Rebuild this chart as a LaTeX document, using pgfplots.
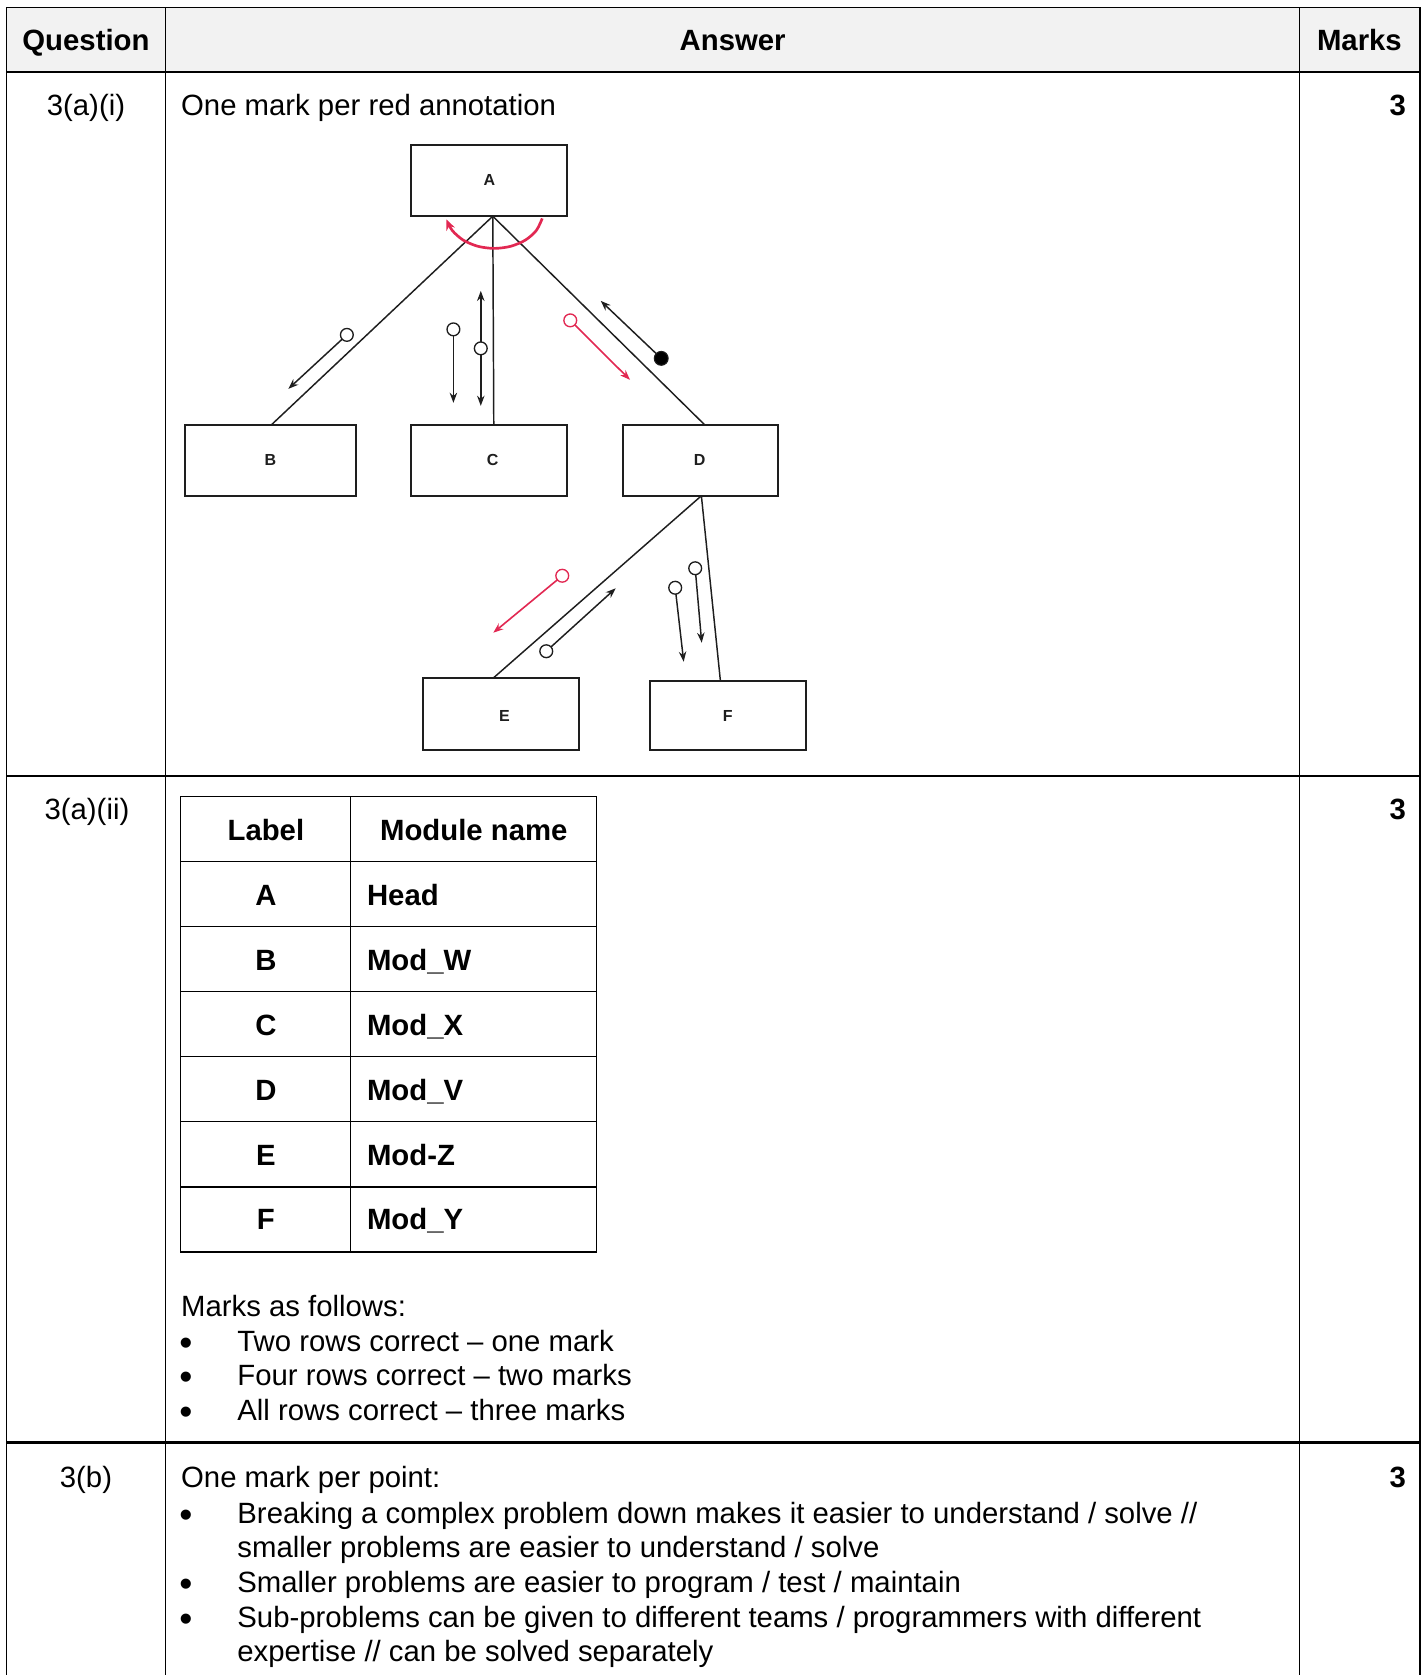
\documentclass[border=0pt]{standalone}
\usepackage{fontspec}
\setmainfont{Liberation Sans}
\usepackage{pgfplots}
\pgfplotsset{compat=1.18}
\usetikzlibrary{arrows.meta}
\definecolor{headgrey}{RGB}{242,242,242}
\definecolor{annot}{RGB}{226,40,82}
\definecolor{ink}{RGB}{30,30,30}

\newcommand{\bul}{{\fontsize{14}{14}\selectfont\textbullet}}

\begin{document}
\begin{tikzpicture}[every node/.style={font=\fontsize{11}{13}\selectfont, inner sep=0pt}]
\begin{axis}[
  scale only axis, width=534pt, height=628.5pt,
  xmin=0, xmax=1424, ymin=0, ymax=1676, y dir=reverse,
  hide axis, clip=false,
  rule/.style={black, line width=0.55pt},
  thickrule/.style={black, line width=0.95pt},
  box/.style={ink, line width=0.7pt},
  link/.style={ink, line width=0.55pt},
  flow/.style={ink, line width=0.55pt, -{Stealth[length=3.8pt,width=2.8pt]}},
  redflow/.style={annot, line width=0.6pt, -{Stealth[length=3.8pt,width=2.8pt]}},
  cpl/.style={only marks, mark=*, mark size=2.4pt, mark options={draw=ink, fill=white, line width=0.5pt}},
  redcpl/.style={only marks, mark=*, mark size=2.4pt, mark options={draw=annot, fill=white, line width=0.5pt}},
]
% page and header background
\addplot[draw=none, fill=white] coordinates {(0,0) (1424,0) (1424,1676) (0,1676)} -- cycle;
\addplot[draw=none, fill=headgrey] coordinates {(6.5,7.3) (1420.5,7.3) (1420.5,72) (6.5,72)} -- cycle;

% outer table
\addplot[rule] coordinates {(6.5,7.3) (1420.5,7.3)};
\addplot[rule] coordinates {(6.5,7.3) (6.5,1676)};
\addplot[rule] coordinates {(1420.5,7.3) (1420.5,1676)};
\addplot[rule] coordinates {(165.7,7.3) (165.7,1676)};
\addplot[rule] coordinates {(1300,7.3) (1300,1676)};
\addplot[thickrule] coordinates {(6.5,72) (1420.5,72)};
\addplot[thickrule] coordinates {(6.5,776.5) (1420.5,776.5)};
\addplot[thickrule] coordinates {(6.5,1443) (1420.5,1443)};

% inner label table
\addplot[rule] coordinates {(180.7,796.7) (597,796.7) (597,1252.3) (180.7,1252.3)} -- cycle;
\addplot[rule] coordinates {(350.7,796.7) (350.7,1252.3)};
\addplot[rule] coordinates {(180.7,861.7) (597,861.7)};
\addplot[rule] coordinates {(180.7,926.7) (597,926.7)};
\addplot[rule] coordinates {(180.7,991.7) (597,991.7)};
\addplot[rule] coordinates {(180.7,1057) (597,1057)};
\addplot[rule] coordinates {(180.7,1122.2) (597,1122.2)};
\addplot[rule] coordinates {(180.7,1187.3) (597,1187.3)};

% structure chart boxes
\addplot[box] coordinates {(411.6,145.4) (567.6,145.4) (567.6,216.3) (411.6,216.3)} -- cycle;
\addplot[box] coordinates {(185,425.5) (356.5,425.5) (356.5,496) (185,496)} -- cycle;
\addplot[box] coordinates {(411.6,425.5) (567.6,425.5) (567.6,496) (411.6,496)} -- cycle;
\addplot[box] coordinates {(623,425.5) (778.5,425.5) (778.5,496) (623,496)} -- cycle;
\addplot[box] coordinates {(423,678.5) (579,678.5) (579,750) (423,750)} -- cycle;
\addplot[box] coordinates {(650,681) (806,681) (806,750.5) (650,750.5)} -- cycle;

% connectors
\addplot[link] coordinates {(493,216.3) (271,425.5)};
\addplot[link] coordinates {(493,216.3) (494,425.5)};
\addplot[link] coordinates {(493,216.3) (705.5,425.5)};
\addplot[link] coordinates {(701.7,496) (493.3,678.5)};
\addplot[link] coordinates {(701.7,496) (720.7,681)};

% red selection arc under A
\addplot[annot, line width=1pt, smooth, -{Stealth[length=4pt,width=3.4pt]}] coordinates {
  (542.5,218.5) (536.6,230.5) (525.6,240.2) (510.9,246.4) (494.5,248.5)
  (478.1,246.4) (463.4,240.2) (452.4,230.5) (446.6,219.5)};

% data couples
\addplot[flow] coordinates {(347,335) (288.5,389)};
\addplot[cpl] coordinates {(347,335)};
\addplot[flow] coordinates {(453.6,329.5) (453.6,403)};
\addplot[cpl] coordinates {(453.6,329.5)};
\addplot[flow] coordinates {(481,348.5) (481,291)};
\addplot[flow] coordinates {(481,348.5) (481,406)};
\addplot[cpl] coordinates {(481,348.5)};
\addplot[flow] coordinates {(661.5,358.5) (601,301)};
\addplot[only marks, mark=*, mark size=2.6pt, mark options={draw=ink, fill=black}] coordinates {(661.5,358.5)};
\addplot[redflow] coordinates {(570.5,320.5) (630.3,380)};
\addplot[redcpl] coordinates {(570.5,320.5)};
\addplot[redflow] coordinates {(562.5,576) (493.5,633)};
\addplot[redcpl] coordinates {(562.5,576)};
\addplot[flow] coordinates {(546.5,651.5) (616,588.5)};
\addplot[cpl] coordinates {(546.5,651.5)};
\addplot[flow] coordinates {(675.5,588) (684,662)};
\addplot[cpl] coordinates {(675.5,588)};
\addplot[flow] coordinates {(695.5,568.5) (702,643)};
\addplot[cpl] coordinates {(695.5,568.5)};

% box letters
\begin{scope}[every node/.style={font=\fontsize{6}{7}\selectfont\bfseries, text=ink}]
\node at (axis cs:489.6,179.6) {A};
\node at (axis cs:270.5,460) {B};
\node at (axis cs:492.8,460) {C};
\node at (axis cs:700,460) {D};
\node at (axis cs:504.6,716) {E};
\node at (axis cs:728,716) {F};
\end{scope}

% header
\node[anchor=base] at (axis cs:86,51) {\bfseries Question};
\node[anchor=base] at (axis cs:733,51) {\bfseries Answer};
\node[anchor=base] at (axis cs:1360,51) {\bfseries Marks};

% row 3(a)(i)
\node[anchor=base] at (axis cs:86,116) {3(a)(i)};
\node[anchor=base west] at (axis cs:180.7,116) {One mark per red annotation};
\node[anchor=base east] at (axis cs:1407,116) {\bfseries 3};

% row 3(a)(ii)
\node[anchor=base] at (axis cs:87,820) {3(a)(ii)};
\node[anchor=base east] at (axis cs:1407,820) {\bfseries 3};
\node[anchor=base] at (axis cs:266,841) {\bfseries Label};
\node[anchor=base] at (axis cs:474,841) {\bfseries Module name};
\node[anchor=base] at (axis cs:266,905.5) {\bfseries A};
\node[anchor=base west] at (axis cs:366.7,905.5) {\bfseries Head};
\node[anchor=base] at (axis cs:266,970.5) {\bfseries B};
\node[anchor=base west] at (axis cs:366.7,970.5) {\bfseries Mod\_W};
\node[anchor=base] at (axis cs:266,1035.5) {\bfseries C};
\node[anchor=base west] at (axis cs:366.7,1035.5) {\bfseries Mod\_X};
\node[anchor=base] at (axis cs:266,1100.5) {\bfseries D};
\node[anchor=base west] at (axis cs:366.7,1100.5) {\bfseries Mod\_V};
\node[anchor=base] at (axis cs:266,1165.5) {\bfseries E};
\node[anchor=base west] at (axis cs:366.7,1165.5) {\bfseries Mod-Z};
\node[anchor=base] at (axis cs:266,1230.5) {\bfseries F};
\node[anchor=base west] at (axis cs:366.7,1230.5) {\bfseries Mod\_Y};
\node[anchor=base west] at (axis cs:180.7,1317) {Marks as follows:};
\node[anchor=base] at (axis cs:186,1356) {\bul};
\node[anchor=base west] at (axis cs:237,1352) {Two rows correct – one mark};
\node[anchor=base] at (axis cs:186,1390.5) {\bul};
\node[anchor=base west] at (axis cs:237,1386.5) {Four rows correct – two marks};
\node[anchor=base] at (axis cs:186,1425) {\bul};
\node[anchor=base west] at (axis cs:237,1421) {All rows correct – three marks};

% row 3(b)
\node[anchor=base] at (axis cs:86,1488) {3(b)};
\node[anchor=base west] at (axis cs:180.7,1488) {One mark per point:};
\node[anchor=base east] at (axis cs:1407,1488) {\bfseries 3};
\node[anchor=base] at (axis cs:186,1528) {\bul};
\node[anchor=base west] at (axis cs:237,1524) {Breaking a complex problem down makes it easier to understand / solve //};
\node[anchor=base west] at (axis cs:237,1558.5) {smaller problems are easier to understand / solve};
\node[anchor=base] at (axis cs:186,1597) {\bul};
\node[anchor=base west] at (axis cs:237,1593) {Smaller problems are easier to program / test / maintain};
\node[anchor=base] at (axis cs:186,1632) {\bul};
\node[anchor=base west] at (axis cs:237,1628) {Sub-problems can be given to different teams / programmers with different};
\node[anchor=base west] at (axis cs:237,1662.5) {expertise // can be solved separately};
\end{axis}
\end{tikzpicture}
\end{document}
